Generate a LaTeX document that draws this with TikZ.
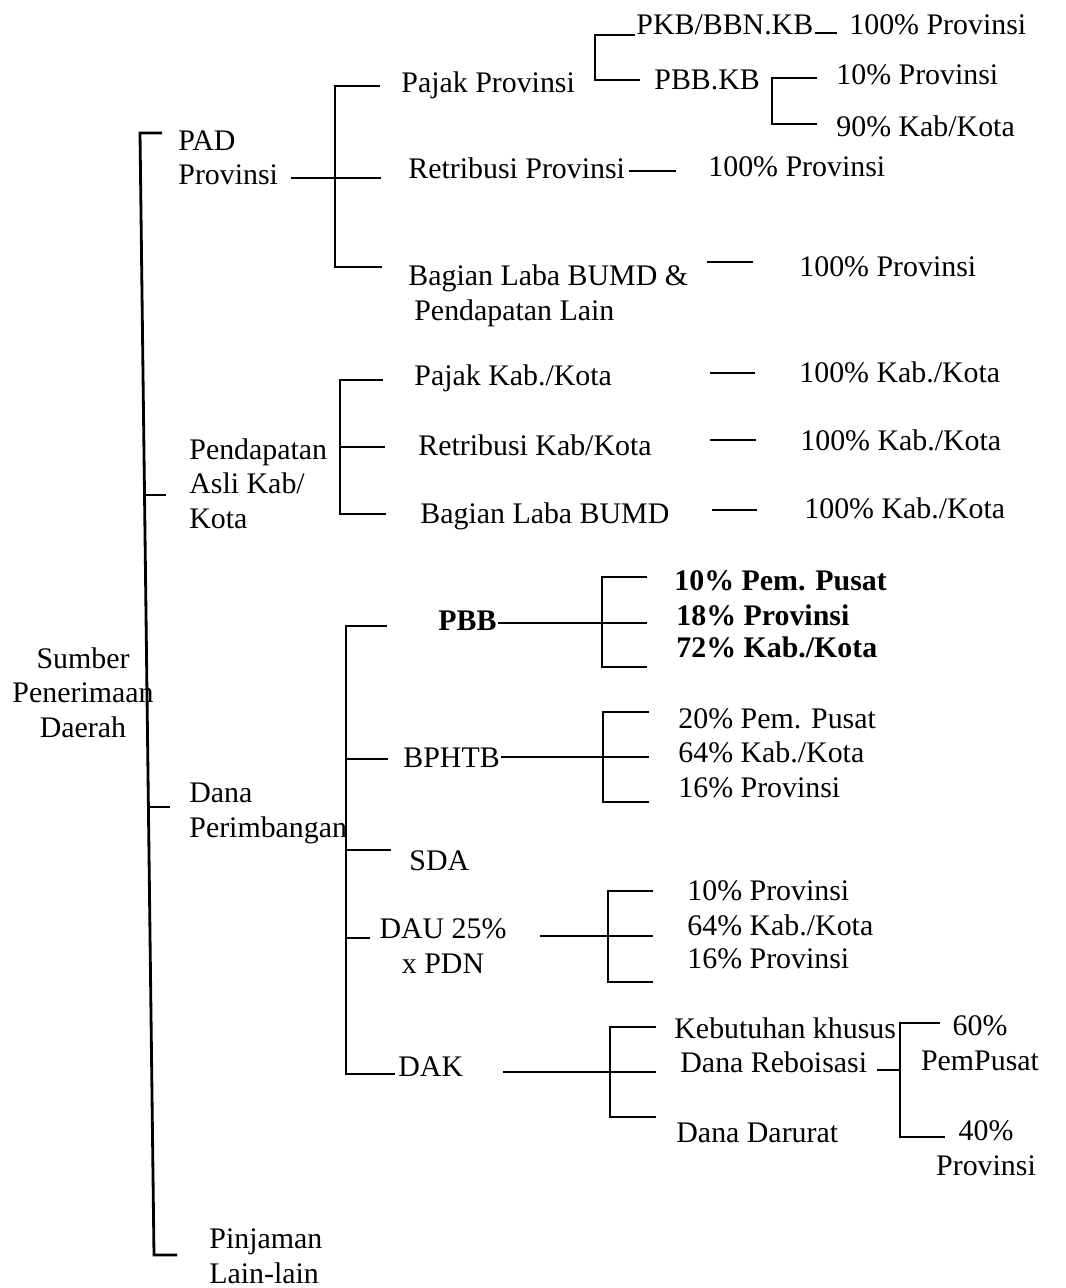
\documentclass[tikz,border=0pt]{standalone}
\usepackage{fontspec}
\setmainfont{Liberation Serif}

\begin{document}
\begin{tikzpicture}[x=0.2mm,y=-0.2mm,line width=1.6pt,
    lbl/.style={anchor=base west,inner sep=0pt,align=left,font=\fontsize{17}{19.5}\selectfont},
    ctr/.style={lbl,anchor=base,align=center}]
    \useasboundingbox (0,0) rectangle (1065,1288);

    \node[ctr] (sumber) at (83,737) {Sumber\\Penerimaan\\Daerah};
    \node[lbl] (pad) at (177,185) {PAD\\Provinsi};
    \node[lbl] (pendapatan) at (188,528) {Pendapatan\\Asli Kab/\\Kota};
    \node[lbl] (dana) at (188,837) {Dana\\Perimbangan};
    \node[lbl] (pinjaman) at (208,1283) {Pinjaman\\Lain-lain};

    \node[lbl] (pajakprov) at (400,93) {Pajak Provinsi};
    \node[lbl] (retprov) at (407,179) {Retribusi Provinsi};
    \node[lbl] (bagianprov) at (407,320) {Bagian Laba BUMD \&\\\hspace*{0.2em}Pendapatan Lain};
    \node[lbl] (pkb) at (635,35) {PKB/BBN.KB};
    \node[lbl] (pbbkb) at (653,90) {PBB.KB};
    \node[lbl] (pkbprov) at (848,35) {100\% Provinsi};
    \node[lbl] (kbprov) at (835,85) {10\% Provinsi};
    \node[lbl] (kbkota) at (835,137) {90\% Kab/Kota};
    \node[lbl] (retprovpct) at (707,177) {100\% Provinsi};
    \node[lbl] (bagianprovpct) at (798,277) {100\% Provinsi};

    \node[lbl] (pajakkab) at (413,385) {Pajak Kab./Kota};
    \node[lbl] (retkab) at (417,455) {Retribusi Kab/Kota};
    \node[lbl] (bagiankab) at (419,523) {Bagian Laba BUMD};
    \node[lbl] (pajakkabpct) at (798,382) {100\% Kab./Kota};
    \node[lbl] (retkabpct) at (799,450) {100\% Kab./Kota};
    \node[lbl] (bagiankabpct) at (803,518) {100\% Kab./Kota};

    \node[lbl] (pbb) at (437,630) {\textbf{PBB}};
    \node[lbl] (bphtb) at (402,767) {BPHTB};
    \node[lbl] (sda) at (408,870) {SDA};
    \node[ctr] (dau) at (443,973) {DAU 25\%\\x PDN};
    \node[lbl] (dak) at (397,1076) {DAK};

    \node[lbl] (pbbpusat) at (673,590) {\textbf{10\% Pem. Pusat}};
    \node[lbl] (pbbprov) at (675,625) {\textbf{18\% Provinsi}};
    \node[lbl] (pbbkota) at (675,657) {\textbf{72\% Kab./Kota}};
    \node[lbl] (bphtbpusat) at (677,728) {20\% Pem. Pusat};
    \node[lbl] (bphtbkota) at (677,762) {64\% Kab./Kota};
    \node[lbl] (bphtbprov) at (677,797) {16\% Provinsi};
    \node[lbl] (dauprov) at (686,900) {10\% Provinsi};
    \node[lbl] (daukota) at (686,935) {64\% Kab./Kota};
    \node[lbl] (dauprovb) at (686,968) {16\% Provinsi};
    \node[lbl] (khusus) at (673,1038) {Kebutuhan khusus};
    \node[lbl] (reboisasi) at (679,1072) {Dana Reboisasi};
    \node[lbl] (darurat) at (675,1142) {Dana Darurat};
    \node[ctr] (pusat) at (980,1070) {60\%\\PemPusat};
    \node[ctr] (provb) at (986,1175) {40\%\\Provinsi};

    \coordinate (maintop) at (140,133);
    \coordinate (mainbot) at (154,1255);
    \draw (maintop) ++(22,0) -- (maintop) -- (mainbot) -- ++(23,0);
    \draw (maintop) ++(4,362) -- ++(22,0);
    \draw (maintop) ++(8,674) -- ++(22,0);

    \coordinate (padbar) at (335,178);
    \draw (padbar) ++(-44,0) -- ++(90,0);
    \draw (padbar) ++(45,-92) -- ++(-45,0) -- ++(0,181) -- ++(47,0);
    \coordinate (pajakbar) at (595,80);
    \draw (pajakbar) ++(45,0) -- (pajakbar) |- (pkb.base west);
    \draw (pkbprov.base west) ++(-33,-2) -- ++(22,0);
    \coordinate (pbbkbbar) at (772,78);
    \draw (pbbkbbar) ++(45,0) -- (pbbkbbar) -- ++(0,46) -- ++(45,0);
    \draw (retprovpct.base west) ++(-78,-6) -- ++(47,0);
    \draw (bagianprovpct.base west) ++(-91,-15) -- ++(46,0);

    \coordinate (pendbar) at (340,380);
    \draw (pendbar) ++(43,0) -- (pendbar) -- ++(0,134) -- ++(46,0);
    \draw (pendbar) ++(0,67) -- ++(45,0);
    \draw (pajakkabpct.base west) ++(-88,-9) -- ++(45,0);
    \draw (retkabpct.base west) ++(-89,-10) -- ++(46,0);
    \draw (bagiankabpct.base west) ++(-91,-8) -- ++(45,0);

    \coordinate (danabar) at (346,626);
    \draw (danabar) ++(41,0) -- (danabar) -- ++(0,448) -- ++(49,0);
    \draw (danabar) ++(0,133) -- ++(42,0);
    \draw (danabar) ++(0,224) -- ++(45,0);
    \draw (danabar) ++(0,312) -- ++(24,0);

    \coordinate (pbbbar) at (602,623);
    \draw (pbb.base east |- pbbbar) -- (pbbbar) -- ++(45,0);
    \draw (pbbbar) ++(45,-46) -- ++(-45,0) -- ++(0,90) -- ++(45,0);
    \coordinate (bphtbbar) at (603,757);
    \draw (bphtb.base east |- bphtbbar) -- (bphtbbar) -- ++(46,0);
    \draw (bphtbbar) ++(46,-45) -- ++(-46,0) -- ++(0,90) -- ++(46,0);
    \coordinate (daubar) at (608,936);
    \draw (daubar) ++(-68,0) -- ++(113,0);
    \draw (daubar) ++(45,-45) -- ++(-45,0) -- ++(0,91) -- ++(45,0);
    \coordinate (dakbar) at (610,1072);
    \draw (dakbar) ++(-107,0) -- ++(153,0);
    \draw (dakbar) ++(46,-45) -- ++(-46,0) -- ++(0,90) -- ++(46,0);
    \coordinate (reboisasibar) at (900,1070);
    \draw (reboisasibar) ++(-23,0) -- (reboisasibar);
    \draw (reboisasibar) ++(40,-47) -- ++(-40,0) -- ++(0,114) -- ++(45,0);
  \end{tikzpicture}
\end{document}
